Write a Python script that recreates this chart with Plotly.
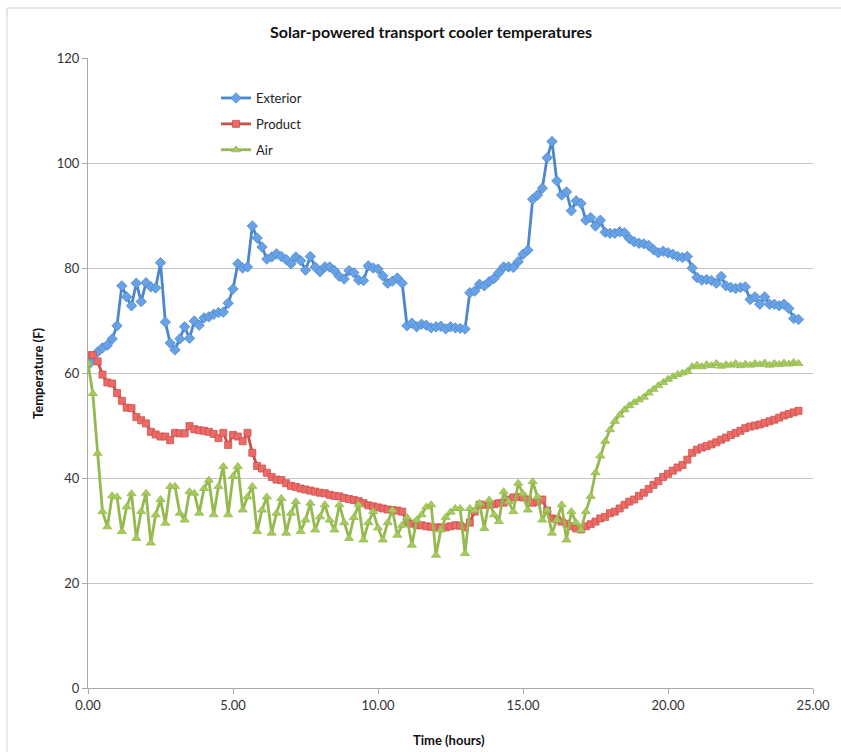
import plotly.graph_objects as go

# Readings logged every 10 minutes (1/6 hour) from 0 to 24.5 hours
SAMPLE_COUNT = 148
TIME_HOURS = [i / 6 for i in range(SAMPLE_COUNT)]

EXTERIOR_F = [
    61.5, 62.5, 64.0, 64.8, 65.3, 66.5, 69.0, 76.6, 74.5, 72.8,
    77.1, 73.6, 77.2, 76.4, 76.2, 81.0, 69.7, 65.7, 64.4, 66.5,
    68.8, 66.6, 69.9, 69.1, 70.5, 70.7, 71.2, 71.5, 71.6, 73.3,
    76.0, 80.8, 80.0, 80.2, 88.0, 85.7, 84.0, 81.7, 82.1, 82.7,
    82.2, 81.6, 80.8, 82.1, 81.4, 79.6, 82.2, 80.2, 79.3, 80.2,
    80.2, 79.5, 78.4, 77.9, 79.5, 79.1, 77.7, 77.6, 80.4, 80.0,
    79.8, 78.5, 77.1, 77.5, 78.1, 77.1, 69.0, 69.5, 68.8, 69.3,
    69.1, 68.6, 68.8, 68.9, 68.4, 68.8, 68.6, 68.5, 68.4, 75.3,
    75.6, 76.9, 76.6, 77.4, 78.0, 79.1, 80.2, 80.2, 80.1, 81.2,
    82.6, 83.4, 93.1, 93.9, 95.2, 101.0, 104.1, 96.6, 93.9, 94.5,
    90.9, 92.8, 92.3, 89.1, 89.6, 88.0, 89.1, 86.8, 86.6, 86.6,
    86.9, 86.7, 85.6, 85.0, 84.7, 84.6, 84.3, 83.5, 82.9, 83.2,
    82.9, 82.6, 82.2, 82.0, 82.2, 80.0, 78.2, 77.7, 77.8, 77.6,
    77.1, 78.4, 76.6, 76.3, 76.1, 76.3, 76.4, 74.0, 74.5, 73.1,
    74.5, 73.1, 73.1, 72.8, 73.1, 72.3, 70.4, 70.2,
]

PRODUCT_F = [
    63.4, 63.4, 62.2, 59.7, 58.2, 58.0, 56.2, 54.7, 53.4, 53.3,
    51.6, 51.0, 50.4, 48.8, 48.3, 47.9, 47.9, 47.2, 48.6, 48.5,
    48.5, 49.9, 49.3, 49.1, 49.0, 48.8, 48.4, 47.6, 48.6, 46.3,
    48.2, 47.9, 47.0, 48.6, 44.8, 42.3, 41.8, 41.0, 40.2, 39.7,
    39.6, 39.0, 38.5, 38.3, 38.0, 37.8, 37.6, 37.4, 37.2, 37.1,
    36.8, 36.6, 36.5, 36.2, 36.0, 35.8, 35.6, 35.2, 34.8, 34.6,
    34.4, 34.2, 34.0, 33.9, 33.8, 33.6, 31.6, 31.3, 31.0, 31.0,
    30.8, 30.7, 30.6, 30.6, 30.6, 30.8, 31.0, 30.9, 30.6, 31.5,
    33.6, 34.9, 34.9, 34.9, 35.0, 35.2, 35.3, 35.9, 36.3, 36.4,
    36.3, 35.9, 35.3, 35.5, 35.9, 33.8, 32.3, 32.1, 31.7, 31.3,
    30.8, 30.4, 30.2, 30.8, 31.2, 31.7, 32.3, 32.6, 33.3, 33.6,
    34.2, 34.9, 35.5, 35.9, 36.6, 37.2, 37.9, 38.7, 39.4, 40.2,
    40.8, 41.4, 42.0, 42.5, 43.5, 44.8, 45.4, 45.8, 46.1, 46.4,
    46.8, 47.3, 47.7, 48.2, 48.6, 49.0, 49.5, 49.8, 50.0, 50.2,
    50.5, 50.8, 51.1, 51.5, 51.9, 52.2, 52.5, 52.8,
]

AIR_F = [
    61.8, 56.1, 44.7, 33.6, 30.7, 36.6, 36.4, 29.8, 34.5, 37.0,
    28.5, 33.6, 37.1, 27.6, 33.0, 35.9, 31.4, 38.4, 38.4, 33.3,
    32.0, 37.4, 37.1, 33.3, 38.0, 39.6, 33.0, 38.4, 42.2, 33.0,
    40.3, 42.2, 33.9, 36.4, 38.4, 29.8, 33.9, 36.4, 29.5, 33.3,
    36.1, 29.5, 33.3, 35.5, 29.8, 32.0, 35.2, 30.1, 32.6, 34.9,
    32.0, 30.1, 34.9, 31.5, 28.5, 32.5, 34.9, 28.2, 31.5, 33.6,
    30.5, 28.2, 31.5, 33.9, 29.1, 31.0, 32.5, 27.2, 32.0, 33.0,
    34.5, 34.9, 25.3, 30.1, 32.5, 33.5, 34.2, 34.2, 25.6, 34.2,
    33.8, 35.2, 30.4, 35.8, 33.0, 31.7, 37.4, 35.5, 33.6, 39.0,
    37.0, 33.9, 39.3, 36.4, 32.0, 33.9, 29.5, 32.0, 34.9, 28.2,
    33.6, 31.5, 30.1, 33.6, 36.5, 41.0, 44.2, 47.0, 49.2, 50.8,
    52.0, 53.0, 53.8, 54.4, 54.9, 55.4, 56.2, 56.9, 57.6, 58.2,
    58.8, 59.3, 59.7, 60.0, 60.3, 61.2, 61.5, 61.2, 61.6, 61.4,
    61.8, 61.3, 61.6, 61.5, 61.8, 61.4, 61.7, 61.5, 61.8, 61.6,
    61.9, 61.5, 61.8, 61.6, 61.9, 61.7, 62.0, 61.8,
]

X_TICKS = [0, 5, 10, 15, 20, 25]
Y_TICKS = [0, 20, 40, 60, 80, 100, 120]

FONT = "Lato, 'Open Sans', sans-serif"

series = [
    ("Exterior", EXTERIOR_F, "#4C87CC", "#68A2E6", "diamond", 8),
    ("Product", PRODUCT_F, "#C9504C", "#EE6A66", "square", 7),
    ("Air", AIR_F, "#95B94F", "#A4CB5C", "triangle-up", 8),
]

fig = go.Figure()
for name, values, line_color, marker_color, symbol, size in series:
    fig.add_trace(go.Scatter(
        x=TIME_HOURS,
        y=values,
        name=name,
        legendgroup=name,
        mode="lines+markers",
        line=dict(color=line_color, width=2.8),
        marker=dict(symbol=symbol, size=size, color=marker_color,
                    line=dict(color=line_color, width=0.8)),
    ))

# Pixel geometry of the plotting area
W, H = 841, 752
L, R, T, B = 88, 28, 58, 64
pw, ph = W - L - R, H - T - B


def px_x(p):
    return (p - L) / pw


def px_y(p):
    return (H - B - p) / ph


fig.update_layout(
    width=W,
    height=H,
    margin=dict(l=L, r=R, t=T, b=B),
    paper_bgcolor="white",
    plot_bgcolor="white",
    font=dict(family=FONT, size=13, color="#333333"),
    showlegend=True,
    legend=dict(
        x=px_x(216), y=px_y(83), xanchor="left", yanchor="top",
        bgcolor="rgba(0,0,0,0)", font=dict(family=FONT, size=13, color="#222222"),
        tracegroupgap=6, itemwidth=30,
    ),
    xaxis=dict(
        range=[0, 25],
        tickvals=X_TICKS,
        tickformat=".2f",
        showgrid=False,
        zeroline=False,
        showline=True,
        linecolor="#A8A8A8",
        linewidth=1,
        ticks="outside",
        ticklen=5,
        tickcolor="#A8A8A8",
        tickfont=dict(family=FONT, size=13, color="#333333"),
    ),
    yaxis=dict(
        range=[0, 120],
        tickvals=Y_TICKS,
        showgrid=True,
        gridcolor="#C4C4C4",
        gridwidth=1,
        zeroline=False,
        showline=True,
        linecolor="#A8A8A8",
        linewidth=1,
        ticks="outside",
        ticklen=5,
        tickcolor="#A8A8A8",
        tickfont=dict(family=FONT, size=13, color="#333333"),
    ),
    shapes=[
        dict(type="rect", xref="paper", yref="paper",
             x0=px_x(7), x1=px_x(870), y0=px_y(780), y1=px_y(8),
             line=dict(color="#D0D0D0", width=1), fillcolor="rgba(0,0,0,0)",
             layer="below"),
    ],
    annotations=[
        dict(text="<b>Solar-powered transport cooler temperatures</b>",
             xref="paper", yref="paper", x=px_x(431), y=px_y(32),
             xanchor="center", yanchor="middle", showarrow=False,
             font=dict(family=FONT, size=16, color="#111111")),
        dict(text="<b>Time (hours)</b>",
             xref="paper", yref="paper", x=px_x(449), y=px_y(740),
             xanchor="center", yanchor="middle", showarrow=False,
             font=dict(family=FONT, size=13, color="#111111")),
        dict(text="<b>Temperature (F)</b>",
             xref="paper", yref="paper", x=px_x(38), y=px_y(373),
             xanchor="center", yanchor="middle", showarrow=False, textangle=-90,
             font=dict(family=FONT, size=13, color="#111111")),
    ],
)

fig.write_html("out.html")
